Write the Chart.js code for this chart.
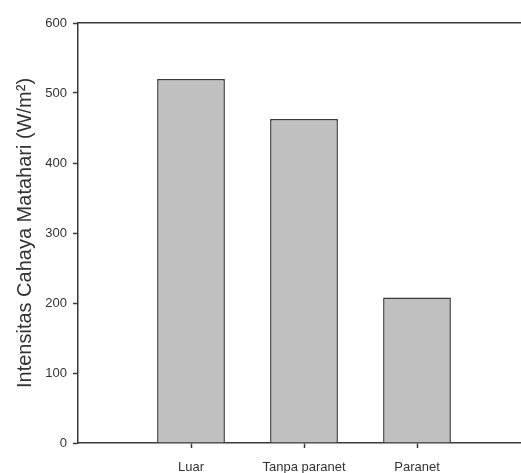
<!DOCTYPE html>
<html>
<head>
<meta charset="utf-8">
<script src="https://cdn.jsdelivr.net/npm/chart.js@4.4.0/dist/chart.umd.min.js"></script>
<style>
  html, body { margin: 0; padding: 0; background: #fff; overflow: hidden; }
  #wrap { position: relative; width: 542px; height: 473px; }
</style>
</head>
<body>
<div id="wrap"><canvas id="chart1"></canvas></div>
<script>
// data
var categories = ['Luar', 'Tanpa paranet', 'Paranet'];
var intensity = [520, 463, 208];
var yTicks = [0, 100, 200, 300, 400, 500, 600];
var yTitle = 'Intensitas Cahaya Matahari (W/m\u00B2)';

// empty slot either side so the bars sit at 1..3 like the original
var labels = [''].concat(categories, ['']);
var values = [null].concat(intensity, [null]);

var axisColor = '#3a3a3a';
var textColor = '#333';
Chart.defaults.font.family = '"Liberation Sans", Arial, sans-serif';

var ctx = document.getElementById('chart1').getContext('2d');
var myChart = new Chart(ctx, {
    type: 'bar',
    data: {
        labels: labels,
        datasets: [{
            data: values,
            backgroundColor: '#c0c0c0',
            borderColor: '#3a3a3a',
            borderWidth: 1.5,
            borderSkipped: 'bottom',
            barPercentage: 0.6,
            categoryPercentage: 1
        }]
    },
    options: {
        responsive: true,
        maintainAspectRatio: false,
        animation: false,
        layout: { padding: { top: 23, right: 0, bottom: 0, left: 0 } },
        plugins: {
            legend: { display: false },
            tooltip: { enabled: false }
        },
        scales: {
            x: {
                offset: false,
                afterFit: function(scale) {
                    scale.height = 30;
                },
                grid: {
                    offset: false,
                    drawOnChartArea: false,
                    drawTicks: true,
                    tickLength: 5,
                    tickWidth: 1.5,
                    tickColor: function(c) {
                        return (c.index === 0 || c.index === labels.length - 1) ? 'rgba(0,0,0,0)' : axisColor;
                    }
                },
                border: { display: true, color: axisColor, width: 1.5 },
                ticks: {
                    color: textColor,
                    font: { size: 13 },
                    padding: 12,
                    maxRotation: 0,
                    autoSkip: false
                }
            },
            xTop: {
                position: 'top',
                grid: { display: false, drawTicks: false },
                border: { display: true, color: axisColor, width: 1.5 },
                ticks: { display: false }
            },
            y: {
                min: 0,
                max: 600,
                afterBuildTicks: function(scale) {
                    scale.ticks = yTicks.map(function(v) { return { value: v }; });
                },
                afterFit: function(scale) {
                    scale.width = 78;
                },
                grid: {
                    drawOnChartArea: false,
                    drawTicks: true,
                    tickLength: 5,
                    tickWidth: 1.5,
                    tickColor: axisColor
                },
                border: { display: true, color: axisColor, width: 1.5 },
                ticks: {
                    color: textColor,
                    font: { size: 13 },
                    padding: 6
                },
                title: {
                    display: true,
                    text: yTitle,
                    color: textColor,
                    font: { size: 20 },
                    padding: { top: 13, bottom: 0 }
                }
            }
        }
    }
});
</script>
</body>
</html>
